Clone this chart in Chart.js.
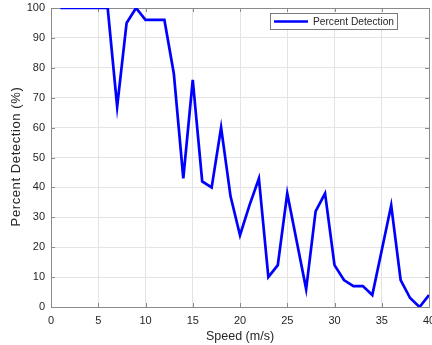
<!DOCTYPE html>
<html><head><meta charset="utf-8">
<script src="https://cdn.jsdelivr.net/npm/chart.js@4.4.0/dist/chart.umd.min.js"></script>
<style>html,body{margin:0;padding:0;background:#fff;overflow:hidden}</style>
</head><body>
<canvas id="c" width="432" height="345"></canvas>
<script>
const speeds = [1,2,3,4,5,6,7,8,9,10,11,12,13,14,15,16,17,18,19,20,21,22,23,24,25,26,27,28,29,30,31,32,33,34,35,36,37,38,39,40];
const percentDetection = [100,100,100,100,100,100,67,95,100,96,96,96,78,43,76,42,40,60,37,24,34,43,10,14,38,22,6,32,38,14,9,7,7,4,19,34,9,3,0,4];
const xTickValues = [0,5,10,15,20,25,30,35,40];
const yTickValues = [0,10,20,30,40,50,60,70,80,90,100];
const seriesLabel = 'Percent Detection';
const xTitle = 'Speed (m/s)';
const yTitle = 'Percent Detection (%)';

const FONT = "'Liberation Sans', Arial, Helvetica, sans-serif";
const AXIS_COLOR = '#8a8a8a';
const TEXT_COLOR = '#262626';
const LINE_COLOR = '#0000ff';

const framePlugin = {
  id: 'frame',
  beforeDatasetsDraw(chart) {
    const {ctx, chartArea: a, scales: {x, y}} = chart;
    ctx.save();
    ctx.strokeStyle = AXIS_COLOR;
    ctx.lineWidth = 1;
    const tl = 4;
    ctx.beginPath();
    x.ticks.forEach(t => {
      const px = Math.round(x.getPixelForValue(t.value)) + 0.5;
      ctx.moveTo(px, a.bottom); ctx.lineTo(px, a.bottom - tl);
      ctx.moveTo(px, a.top); ctx.lineTo(px, a.top + tl);
    });
    y.ticks.forEach(t => {
      const py = Math.round(y.getPixelForValue(t.value)) + 0.5;
      ctx.moveTo(a.left, py); ctx.lineTo(a.left + tl, py);
      ctx.moveTo(a.right, py); ctx.lineTo(a.right - tl, py);
    });
    ctx.stroke();
    ctx.strokeRect(Math.round(a.left) + 0.5, Math.round(a.top) + 0.5, Math.round(a.right - a.left), Math.round(a.bottom - a.top));
    ctx.restore();
  }
};

const yTitlePlugin = {
  id: 'yTitle',
  afterDraw(chart) {
    const {ctx, chartArea: a} = chart;
    ctx.save();
    ctx.translate(20, (a.top + a.bottom) / 2 - 1);
    ctx.rotate(-Math.PI / 2);
    ctx.font = "13px " + FONT;
    if ('letterSpacing' in ctx) ctx.letterSpacing = '0.6px';
    ctx.fillStyle = TEXT_COLOR;
    ctx.textAlign = 'center';
    ctx.textBaseline = 'alphabetic';
    ctx.fillText(yTitle, 0, 0);
    ctx.restore();
  }
};

const legendPlugin = {
  id: 'boxLegend',
  afterDraw(chart) {
    const {ctx, chartArea: a} = chart;
    const ds = chart.data.datasets[0];
    const right = a.right - 32, top = a.top + 5, w = 127, h = 16;
    const left = right - w;
    ctx.save();
    ctx.fillStyle = '#ffffff';
    ctx.fillRect(left, top, w, h);
    ctx.strokeStyle = '#7a7a7a';
    ctx.lineWidth = 1;
    ctx.strokeRect(left + 0.5, top + 0.5, w, h);
    ctx.strokeStyle = ds.borderColor;
    ctx.lineWidth = ds.borderWidth;
    ctx.beginPath();
    ctx.moveTo(left + 4, top + h / 2 + 0.5);
    ctx.lineTo(left + 38, top + h / 2 + 0.5);
    ctx.stroke();
    ctx.fillStyle = TEXT_COLOR;
    ctx.font = "10.2px " + FONT;
    ctx.textBaseline = 'middle';
    ctx.fillText(ds.label, left + 43, top + h / 2 + 1);
    ctx.restore();
  }
};

new Chart(document.getElementById('c'), {
  type: 'line',
  data: {
    datasets: [{
      label: seriesLabel,
      data: speeds.map((s, i) => ({x: s, y: percentDetection[i]})),
      borderColor: LINE_COLOR,
      backgroundColor: LINE_COLOR,
      borderWidth: 2.7,
      pointRadius: 0,
      tension: 0,
      fill: false
    }]
  },
  options: {
    responsive: false,
    devicePixelRatio: 1,
    animation: false,
    layout: {padding: {top: 8, left: 0, right: 0, bottom: 0}},
    plugins: {legend: {display: false}, tooltip: {enabled: false}},
    scales: {
      x: {
        type: 'linear', min: 0, max: 40,
        afterBuildTicks(s) { s.ticks = xTickValues.map(v => ({value: v})); },
        afterFit(s) { s.height = 38; s.paddingRight = 3; s.paddingLeft = 0; },
        grid: {color: '#e4e4e4', drawTicks: false, lineWidth: 1},
        border: {display: false},
        ticks: {padding: 7, color: TEXT_COLOR, font: {family: FONT, size: 11}, maxRotation: 0, autoSkip: false},
        title: {display: true, text: xTitle, color: TEXT_COLOR, font: {family: FONT, size: 12.5}, padding: {top: 0, bottom: 1}}
      },
      y: {
        type: 'linear', min: 0, max: 100,
        afterBuildTicks(s) { s.ticks = yTickValues.map(v => ({value: v})); },
        afterFit(s) { s.width = 51; s.paddingTop = 0; s.paddingBottom = 0; },
        grid: {color: '#e4e4e4', drawTicks: false, lineWidth: 1},
        border: {display: false},
        ticks: {padding: 6, color: TEXT_COLOR, font: {family: FONT, size: 11}, autoSkip: false},
        title: {display: false}
      }
    }
  },
  plugins: [framePlugin, yTitlePlugin, legendPlugin]
});
</script>
</body></html>
